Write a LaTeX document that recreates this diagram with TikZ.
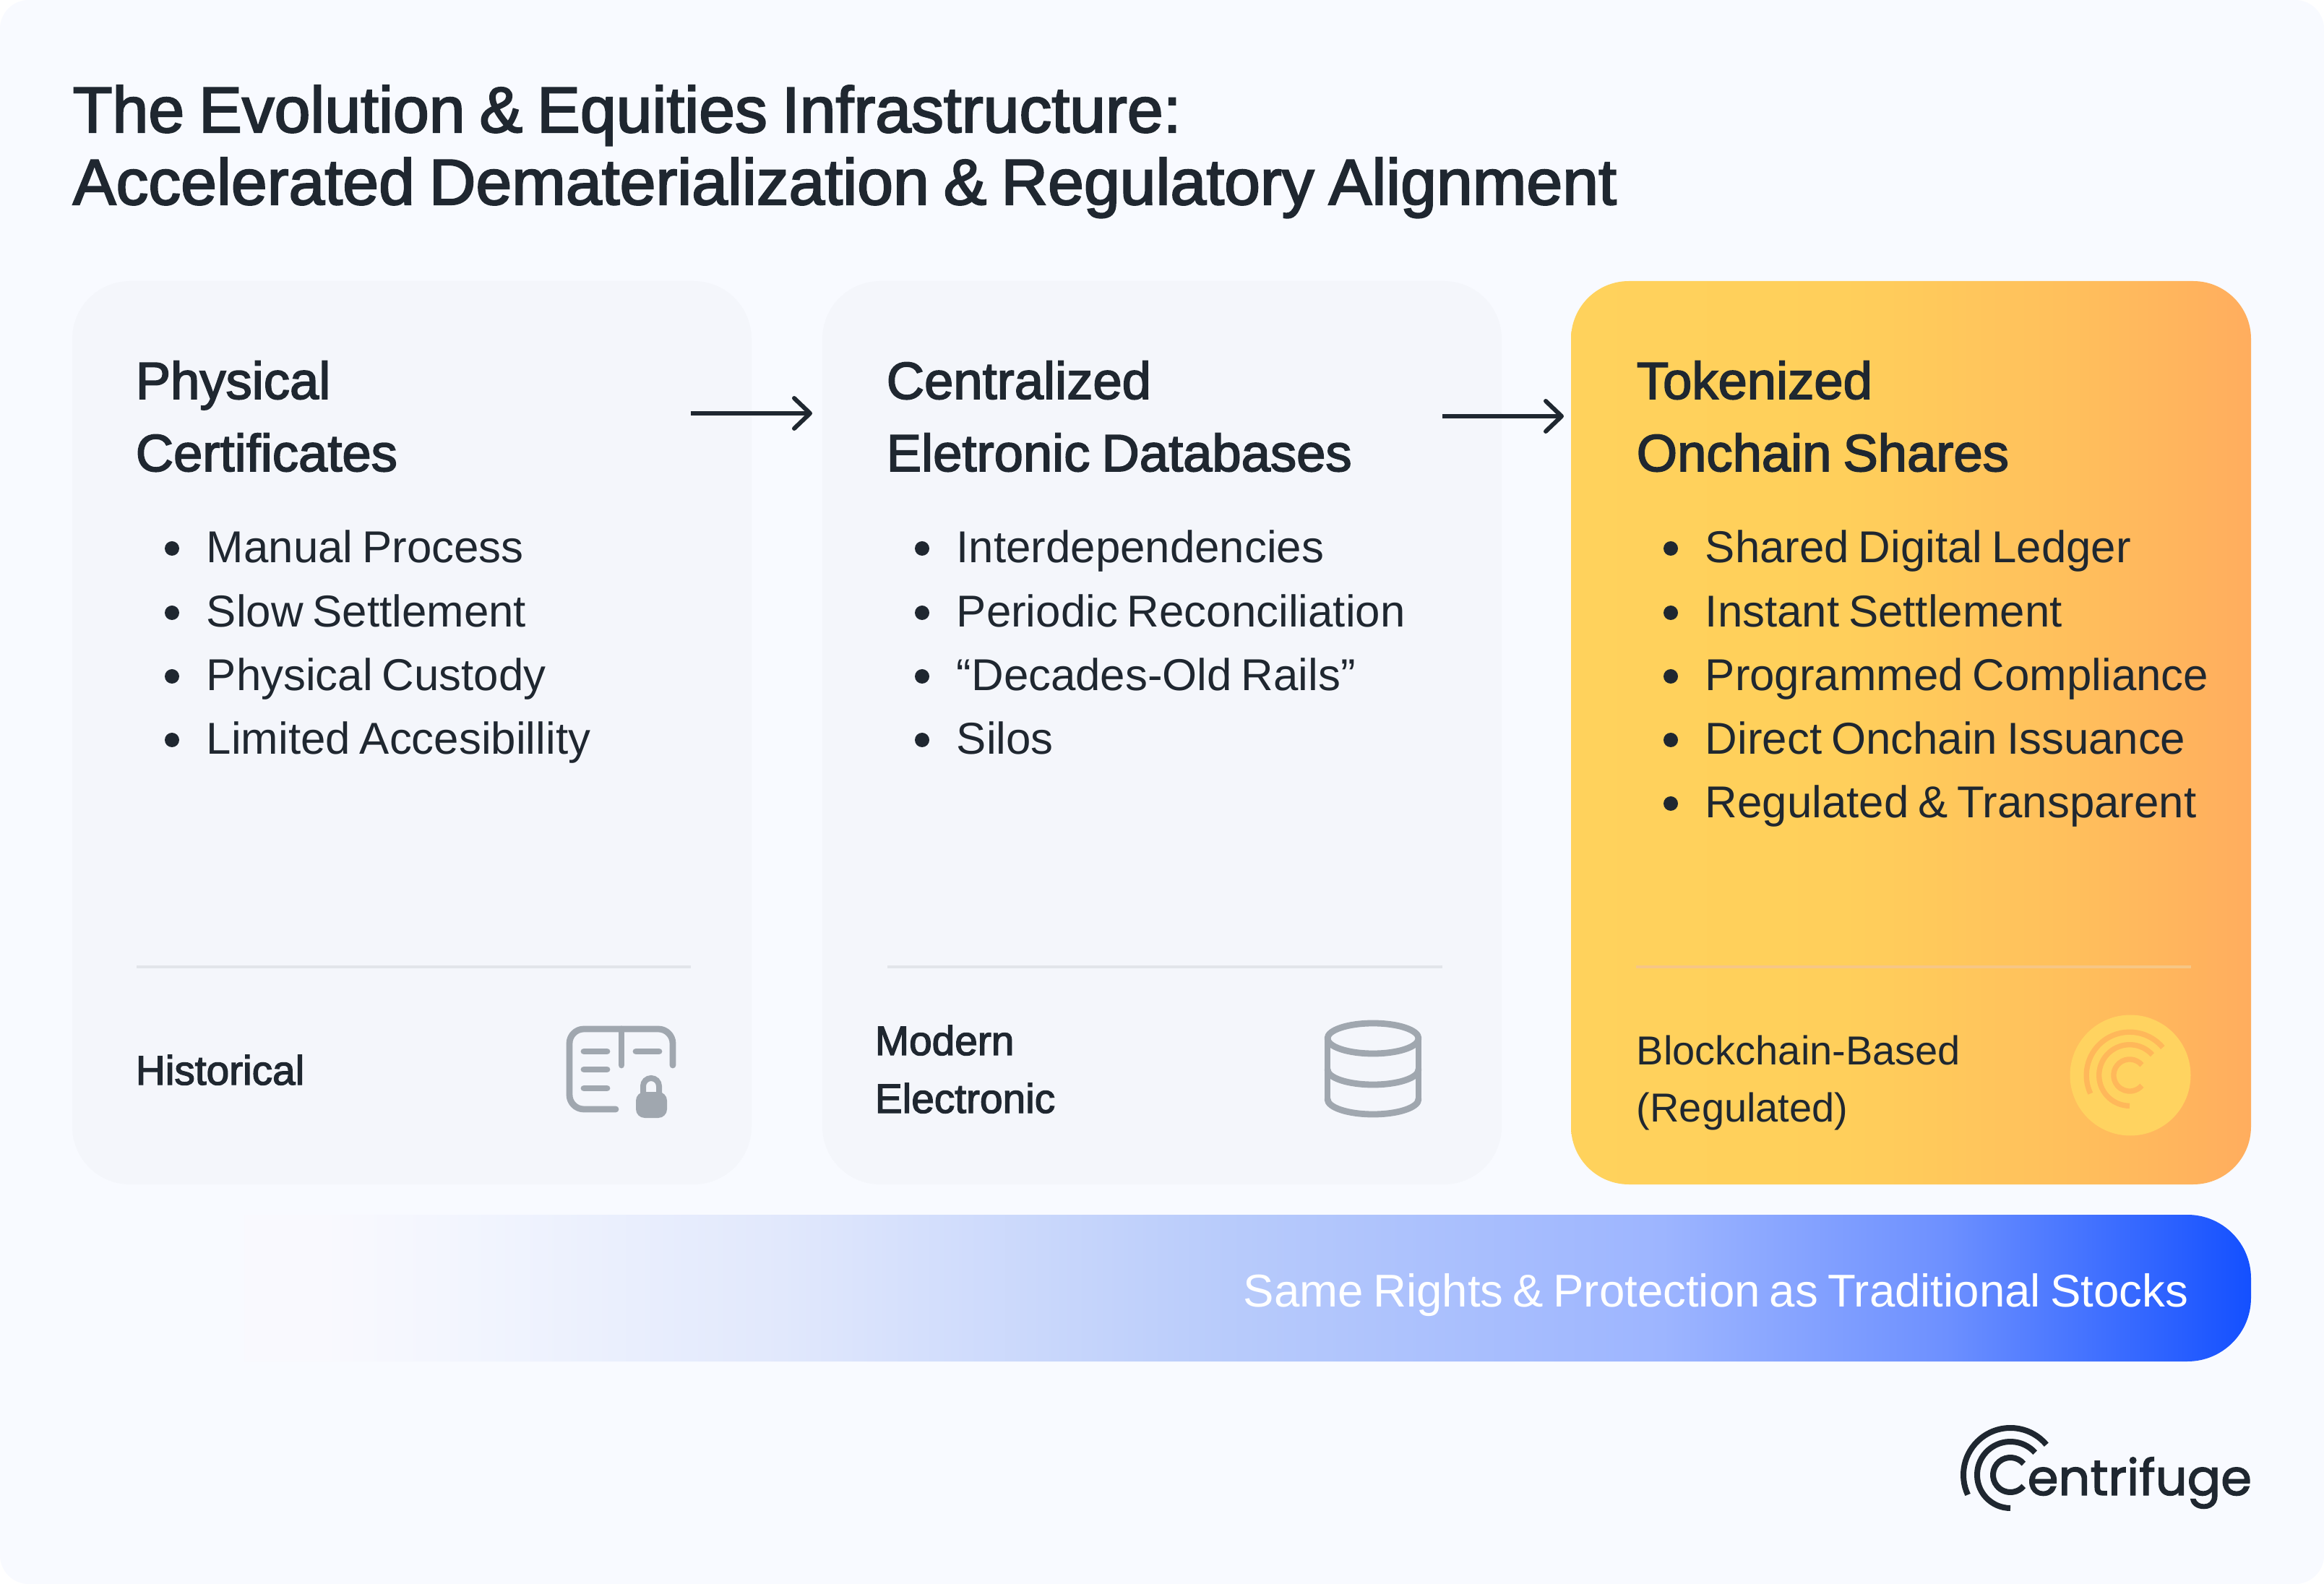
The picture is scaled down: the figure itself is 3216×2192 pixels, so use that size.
\documentclass[tikz,border=0pt]{standalone}
\usepackage{fontspec}
\setmainfont[WordSpace=0.75]{Liberation Sans}
\newfontfamily\medfont[FakeBold=2.4,WordSpace=0.8]{Liberation Sans}
\newfontfamily\logofont[FakeBold=2]{Poppins}
\usetikzlibrary{arrows.meta}
\definecolor{pagebg}{HTML}{F8FAFF}
\definecolor{cardbg}{HTML}{F4F6FB}
\definecolor{inkdark}{HTML}{1F2730}
\definecolor{icongrey}{HTML}{A0A7AF}
\definecolor{ruleline}{HTML}{E2E5EA}
\definecolor{medallion}{HTML}{FFD360}
\definecolor{ripplecol}{HTML}{FFB85A}
\definecolor{bara}{HTML}{F9F9FE}
\definecolor{barb}{HTML}{F2F5FE}
\definecolor{barc}{HTML}{E1E8FC}
\definecolor{bard}{HTML}{B8CBFB}
\definecolor{bare}{HTML}{9DB5FF}
\definecolor{barf}{HTML}{6D90FF}
\definecolor{barg}{HTML}{1450FF}
\definecolor{orangea}{HTML}{FFD25C}
\definecolor{orangeb}{HTML}{FFCF5B}
\definecolor{orangec}{HTML}{FFBF5C}
\definecolor{oranged}{HTML}{FFAD5E}
\pgfdeclarehorizontalshading{barfade}{100bp}{
  color(0bp)=(pagebg); color(27.2bp)=(pagebg); color(30.7bp)=(bara);
  color(34.1bp)=(barb); color(41.3bp)=(barc); color(51.5bp)=(bard);
  color(61.5bp)=(bare); color(68bp)=(barf); color(75bp)=(barg); color(100bp)=(barg)}
\pgfdeclarehorizontalshading{cardfade}{100bp}{
  color(0bp)=(orangea); color(25bp)=(orangea); color(45bp)=(orangeb);
  color(62bp)=(orangec); color(75bp)=(oranged); color(100bp)=(oranged)}
\tikzset{
  cardbox/.style={fill=cardbg,rounded corners=20pt},
  headline/.style={anchor=base west,text=inkdark,font=\medfont\fontsize{22.4}{26}\selectfont,inner sep=0pt},
  cardtitle/.style={anchor=base west,text=inkdark,font=\medfont\fontsize{18.1}{22}\selectfont,inner sep=0pt},
  itemtext/.style={anchor=base west,text=inkdark,font=\fontsize{15.45}{19}\selectfont,inner sep=0pt},
  tagtext/.style={anchor=base west,text=inkdark,font=\medfont\fontsize{14.2}{17}\selectfont,inner sep=0pt},
  tagplain/.style={anchor=base west,text=inkdark,font=\fontsize{14}{17}\selectfont,inner sep=0pt},
  stepline/.style={draw=inkdark,line width=1.5pt,-{Straight Barb[length=5.5pt,width=10.5pt,round,line width=1.5pt]}},
  iconline/.style={draw=icongrey,line width=2.2pt,line cap=round,line join=round},
}
% one bullet with its text
\newcommand{\itemrow}[4]{
  \fill[inkdark] (#2-47,#3-20) circle [radius=10];
  \node[itemtext] (#1) at (#2,#3) {#4};
}
% three arcs of the ring mark
\newcommand{\ringmark}[4]{
  \begin{scope}[shift={(#1,#2)},scale=#3,line width=#3*2pt,draw=#4]
    \draw (-40:24) arc [start angle=-40,end angle=-320,radius=24];
    \draw (-42:46) arc [start angle=-42,end angle=-270,radius=46];
    \draw (-40:65) arc [start angle=-40,end angle=-205,radius=65];
  \end{scope}
}
\begin{document}
\begin{tikzpicture}[x=0.25pt,y=-0.25pt]
\useasboundingbox (0,0) rectangle (3216,2192);
\fill[white] (0,0) rectangle (3216,2192);
\fill[pagebg,rounded corners=10pt] (0,0) rectangle (3216,2192);

% heading
\node[headline] (headone) at (100,183) {The Evolution \& Equities Infrastructure:};
\node[headline] (headtwo) at (100,283) {Accelerated Dematerialization \& Regulatory Alignment};

% cards
\fill[cardbox] (100,389) rectangle (1040,1639);
\fill[cardbox] (1138,389) rectangle (2078,1639);
\shade[shading=cardfade,rounded corners=20pt] (2174,389) rectangle (3115,1639);

% blue bar
\shade[shading=barfade,rounded corners=22pt] (100,1681) rectangle (3115,1884);
\node[anchor=base east,text=white,inner sep=0pt,font=\fontsize{15.9}{19}\selectfont] (barlabel) at (3029,1808) {Same Rights \& Protection as Traditional Stocks};

% first card
\node[cardtitle] (physone) at (187,552) {Physical};
\node[cardtitle] (phystwo) at (187,652) {Certificates};
\itemrow{physa}{285}{779}{Manual Process}
\itemrow{physb}{285}{868}{Slow Settlement}
\itemrow{physc}{285}{956}{Physical Custody}
\itemrow{physd}{285}{1044}{Limited Accesibillity}
\draw[ruleline,line width=1pt] (189,1338) -- (956,1338);
\node[tagtext] (histtag) at (187,1501) {Historical};

% second card
\node[cardtitle] (centone) at (1226,552) {Centralized};
\node[cardtitle] (centtwo) at (1226,652) {Eletronic Databases};
\itemrow{centa}{1323}{779}{Interdependencies}
\itemrow{centb}{1323}{868}{Periodic Reconciliation}
\itemrow{centc}{1323}{956}{“Decades-Old Rails”}
\itemrow{centd}{1323}{1044}{Silos}
\draw[ruleline,line width=1pt] (1228,1338) -- (1996,1338);
\node[tagtext] (modone) at (1210,1460) {Modern};
\node[tagtext] (modtwo) at (1210,1540) {Electronic};

% third card
\node[cardtitle] (tokone) at (2264,552) {Tokenized};
\node[cardtitle] (toktwo) at (2264,652) {Onchain Shares};
\itemrow{toka}{2359}{779}{Shared Digital Ledger}
\itemrow{tokb}{2359}{868}{Instant Settlement}
\itemrow{tokc}{2359}{956}{Programmed Compliance}
\itemrow{tokd}{2359}{1044}{Direct Onchain Issuance}
\itemrow{toke}{2359}{1132}{Regulated \& Transparent}
\draw[ripplecol!70!ruleline,line width=1pt] (2264,1338) -- (3032,1338);
\node[tagplain] (blockone) at (2264,1473) {Blockchain-Based};
\node[tagplain] (blocktwo) at (2264,1553) {(Regulated)};

% arrows between cards
\coordinate (stepa) at (956,572);
\coordinate (stepb) at (1124,572);
\coordinate (stepc) at (1996,576);
\coordinate (stepd) at (2164,576);
\draw[stepline] (stepa) -- (stepb);
\draw[stepline] (stepc) -- (stepd);

% certificate icon
\draw[iconline,rounded corners=5pt] (852,1535) -- (788,1535) -- (788,1424) -- (931,1424) -- (931,1474);
\draw[iconline] (860,1424) -- (860,1474);
\draw[iconline] (808,1455) -- (840,1455);
\draw[iconline] (808,1480) -- (840,1480);
\draw[iconline] (808,1506) -- (840,1506);
\draw[iconline] (880,1455) -- (912,1455);
\fill[icongrey,rounded corners=3pt] (880,1511) rectangle (923,1547);
\draw[icongrey,line width=2pt] (890,1515) -- (890,1503) arc [start angle=180,end angle=360,radius=11] -- (912,1515);

% database icon
\draw[iconline] (1900,1437) ellipse [x radius=63,y radius=21];
\draw[iconline] (1837,1437) -- (1837,1520);
\draw[iconline] (1963,1437) -- (1963,1520);
\draw[iconline] (1837,1480) arc [start angle=180,end angle=0,x radius=63,y radius=21];
\draw[iconline] (1837,1521) arc [start angle=180,end angle=0,x radius=63,y radius=21];

% token medallion
\fill[medallion] (2948,1488) circle [radius=83.5];
\ringmark{2947}{1488}{0.92}{ripplecol}

% logo
\ringmark{2782}{2041}{1}{inkdark}
\node[anchor=base west,text=inkdark,inner sep=0pt,font=\logofont\fontsize{17.2}{20}\selectfont] (logoname) at (2805,2069) {entrifuge};
\end{tikzpicture}
\end{document}
